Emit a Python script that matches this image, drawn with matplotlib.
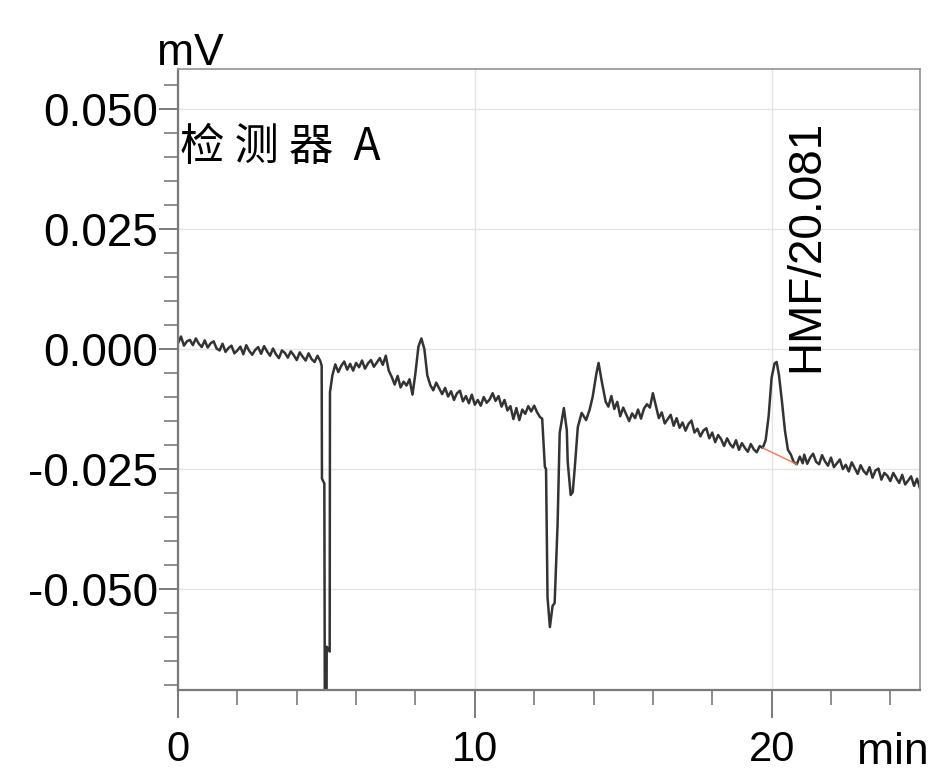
import numpy as np
import matplotlib
matplotlib.use("Agg")
from matplotlib import pyplot as plt
from matplotlib.ticker import MultipleLocator, FixedLocator

plt.rcParams['font.family'] = ['Liberation Sans', 'DejaVu Sans']
plt.rcParams['axes.unicode_minus'] = False

# retention time (min) and detector signal (uV, 1 uV = 0.001 mV)
time_min = [
    0.0, 0.1, 0.2, 0.3, 0.4, 0.5, 0.6, 0.7, 0.8, 0.9,
    1.0, 1.1, 1.2, 1.3, 1.4, 1.5, 1.6, 1.7, 1.8, 1.9,
    2.0, 2.1, 2.2, 2.3, 2.4, 2.5, 2.6, 2.7, 2.8, 2.9,
    3.0, 3.1, 3.2, 3.3, 3.4, 3.5, 3.6, 3.7, 3.8, 3.9,
    4.0, 4.1, 4.2, 4.3, 4.4, 4.5, 4.6, 4.7, 4.8,
    4.84, 4.85, 4.93, 4.95, 5.0, 5.01, 5.11, 5.12, 5.2,
    5.3, 5.4, 5.5, 5.6, 5.7, 5.8, 5.9,
    6.0, 6.1, 6.2, 6.3, 6.4, 6.5, 6.6, 6.7, 6.8, 6.9,
    7.0, 7.1, 7.2, 7.3, 7.4, 7.5, 7.6, 7.7, 7.8, 7.9,
    8.0, 8.1, 8.2, 8.3, 8.4, 8.5, 8.6, 8.7, 8.8, 8.9,
    9.0, 9.1, 9.2, 9.3, 9.4, 9.5, 9.6, 9.7, 9.8, 9.9,
    10.0, 10.1, 10.2, 10.3, 10.4, 10.5, 10.6, 10.7, 10.8, 10.9,
    11.0, 11.1, 11.2, 11.3, 11.4, 11.5, 11.6, 11.7, 11.8, 11.9,
    12.0, 12.1, 12.2, 12.27,
    12.36, 12.40, 12.45, 12.53, 12.62, 12.69, 12.79, 12.86, 13.0,
    13.1, 13.13, 13.23, 13.3, 13.37, 13.47, 13.6, 13.75, 13.87, 13.97,
    14.1, 14.17, 14.27, 14.41,
    14.5, 14.6, 14.7, 14.8, 14.9, 15.0, 15.1, 15.2, 15.3, 15.4,
    15.5, 15.6, 15.7, 15.8, 15.9, 16.0, 16.1, 16.2, 16.3, 16.4,
    16.5, 16.6, 16.7, 16.8, 16.9, 17.0, 17.1, 17.2, 17.3, 17.4,
    17.5, 17.6, 17.7, 17.8, 17.9, 18.0, 18.1, 18.2, 18.3, 18.4,
    18.5, 18.6, 18.7, 18.8, 18.9, 19.0, 19.1, 19.2, 19.3, 19.4,
    19.5, 19.6, 19.7, 19.8, 19.9, 20.0, 20.1, 20.17, 20.25, 20.35,
    20.45, 20.55, 20.65, 20.75, 20.85, 20.95, 21.05,
    21.1, 21.2, 21.3, 21.4, 21.5, 21.6, 21.7, 21.8, 21.9,
    22.0, 22.1, 22.2, 22.3, 22.4, 22.5, 22.6, 22.7, 22.8, 22.9,
    23.0, 23.1, 23.2, 23.3, 23.4, 23.5, 23.6, 23.7, 23.8, 23.9,
    24.0, 24.1, 24.2, 24.3, 24.4, 24.5, 24.6, 24.7, 24.8, 24.9, 25.0,
]
signal_uv = [
    1.2, 2.6, 0.7, 1.6, 1.9, 0.8, 2.2, 1.1, 0.4, 1.8,
    0.3, 1.2, 1.6, 0.1, -0.3, 1.1, -0.6, 0.2, 0.7, -0.9,
    -0.3, 0.5, -1.1, 0.8, -0.4, -1.2, -0.2, 0.4, -1.0, 0.6,
    -0.5, -1.4, 0.1, -1.1, -1.9, -0.3, -0.8, -1.8, -0.5, -1.3,
    -2.3, -0.7, -1.6, -2.4, -0.9, -2.1, -2.7, -1.4, -2.6,
    -3.5, -27.0, -28.0, -85.0, -85.0, -62.0, -63.0, -9.0, -5.5,
    -3.2, -4.8, -3.5, -2.6, -4.3, -3.1, -4.5,
    -2.9, -3.8, -2.4, -4.1, -3.0, -2.3, -3.7, -2.8, -1.9, -3.3,
    -1.4, -4.5, -5.8, -7.4, -5.6, -8.0, -6.8, -7.6, -6.3, -9.5,
    -5.0, 0.5, 2.2, 0.0, -5.5, -7.5, -8.6, -7.0, -8.2, -9.4,
    -8.1, -9.9, -8.8, -10.6, -9.2, -8.7, -10.9, -9.8, -11.3, -9.5,
    -11.6, -10.6, -11.8, -10.0, -11.2, -10.5, -9.2, -10.8, -9.8, -12.0,
    -10.6, -12.8, -11.9, -14.6, -12.3, -14.8, -12.6, -13.5, -11.9, -13.0,
    -11.8, -13.2, -14.2, -14.5,
    -24.5, -25.0, -51.7, -57.9, -53.5, -52.9, -36.3, -17.5, -12.3,
    -16.9, -23.5, -30.4, -29.8, -24.6, -16.3, -13.3, -14.8, -12.6, -10.0,
    -5.0, -2.9, -6.5, -11.0,
    -12.0, -9.8, -12.5, -11.0, -14.0, -12.2, -13.6, -15.0, -13.4, -14.4,
    -12.6, -14.5, -12.4, -11.5, -12.2, -9.2, -11.8, -14.4, -13.2, -15.5,
    -14.6, -13.7, -16.0, -14.4, -16.4, -15.3, -17.0, -15.6, -14.9, -17.4,
    -16.6, -18.2, -17.0, -16.5, -18.6, -17.4, -19.4, -17.9, -18.8, -20.2,
    -18.6, -19.8, -20.5, -19.0, -21.0, -19.6, -20.6, -21.4, -19.8, -20.9,
    -21.5, -20.2, -20.6, -19.0, -14.0, -6.0, -3.0, -2.7, -5.5, -11.0,
    -17.0, -21.0, -22.0, -23.6, -24.0, -22.4, -23.8,
    -22.0, -23.9, -22.6, -21.8, -23.5, -24.0, -22.1, -23.4, -24.3,
    -22.6, -24.6, -23.8, -23.0, -25.0, -24.1, -25.5, -23.6, -24.8, -26.0,
    -24.2, -25.4, -26.1, -24.6, -26.8, -25.3, -24.9, -27.2, -25.8, -26.4,
    -27.5, -25.8, -26.9, -27.9, -26.2, -28.2, -27.4, -26.5, -28.5, -27.0, -29.0,
]

# integration baseline under the HMF peak
base_time = [19.7, 20.85]
base_uv = [-20.6, -24.0]

peak_label = "HMF/20.081"
peak_label_pos = (21.18, -0.0048)
detector_label = "检 测 器  A"

y_major = [-0.050, -0.025, 0.000, 0.025, 0.050]
x_major = [0, 10, 20]

t = np.array(time_min)
mv = np.array(signal_uv) / 1000.0

fig = plt.figure(figsize=(9.34, 7.73), dpi=100)
ax = fig.add_axes([0.1906, 0.1074, 0.7944, 0.8033])

ax.plot(t, mv, color='#333333', lw=1.8)
ax.plot(base_time, np.array(base_uv) / 1000.0, color='#f07850', lw=1.0)

ax.set_xlim(0, 25)
ax.set_ylim(-0.0710, 0.0583)

ax.xaxis.set_major_locator(FixedLocator(x_major))
ax.xaxis.set_minor_locator(MultipleLocator(2))
ax.yaxis.set_major_locator(FixedLocator(y_major))
ax.yaxis.set_minor_locator(MultipleLocator(0.005))
ax.set_yticklabels(['%.3f' % v for v in y_major])

ax.grid(True, which='major', color='#e4e4e4', lw=1.0)
ax.set_axisbelow(True)

for side in ['left', 'bottom']:
    ax.spines[side].set_color('#7a7a7a')
    ax.spines[side].set_linewidth(1.6)
for side in ['top', 'right']:
    ax.spines[side].set_color('#9a9a9a')
    ax.spines[side].set_linewidth(1.3)

ax.tick_params(axis='y', which='major', length=14, width=1.4, color='#7a7a7a',
               labelsize=33, pad=0.5)
ax.tick_params(axis='y', which='minor', length=10, width=1.2, color='#7a7a7a')
ax.tick_params(axis='x', which='major', length=20, width=1.4, color='#7a7a7a',
               labelsize=30, pad=9)
ax.tick_params(axis='x', which='minor', length=11, width=1.2, color='#7a7a7a')

fig.text(190 / 934, 0.916, 'mV', fontsize=32, ha='center', va='baseline')
fig.text(893 / 934, 0.012, 'min', fontsize=32, ha='center', va='baseline')

ax.text(0.003, 0.874, detector_label, transform=ax.transAxes, fontsize=32,
        ha='left', va='center', family=['Noto Sans CJK SC', 'DejaVu Sans'])
ax.text(peak_label_pos[0], peak_label_pos[1], peak_label, rotation=90,
        fontsize=33, ha='center', va='bottom')

fig.savefig('out.png', dpi=100)
